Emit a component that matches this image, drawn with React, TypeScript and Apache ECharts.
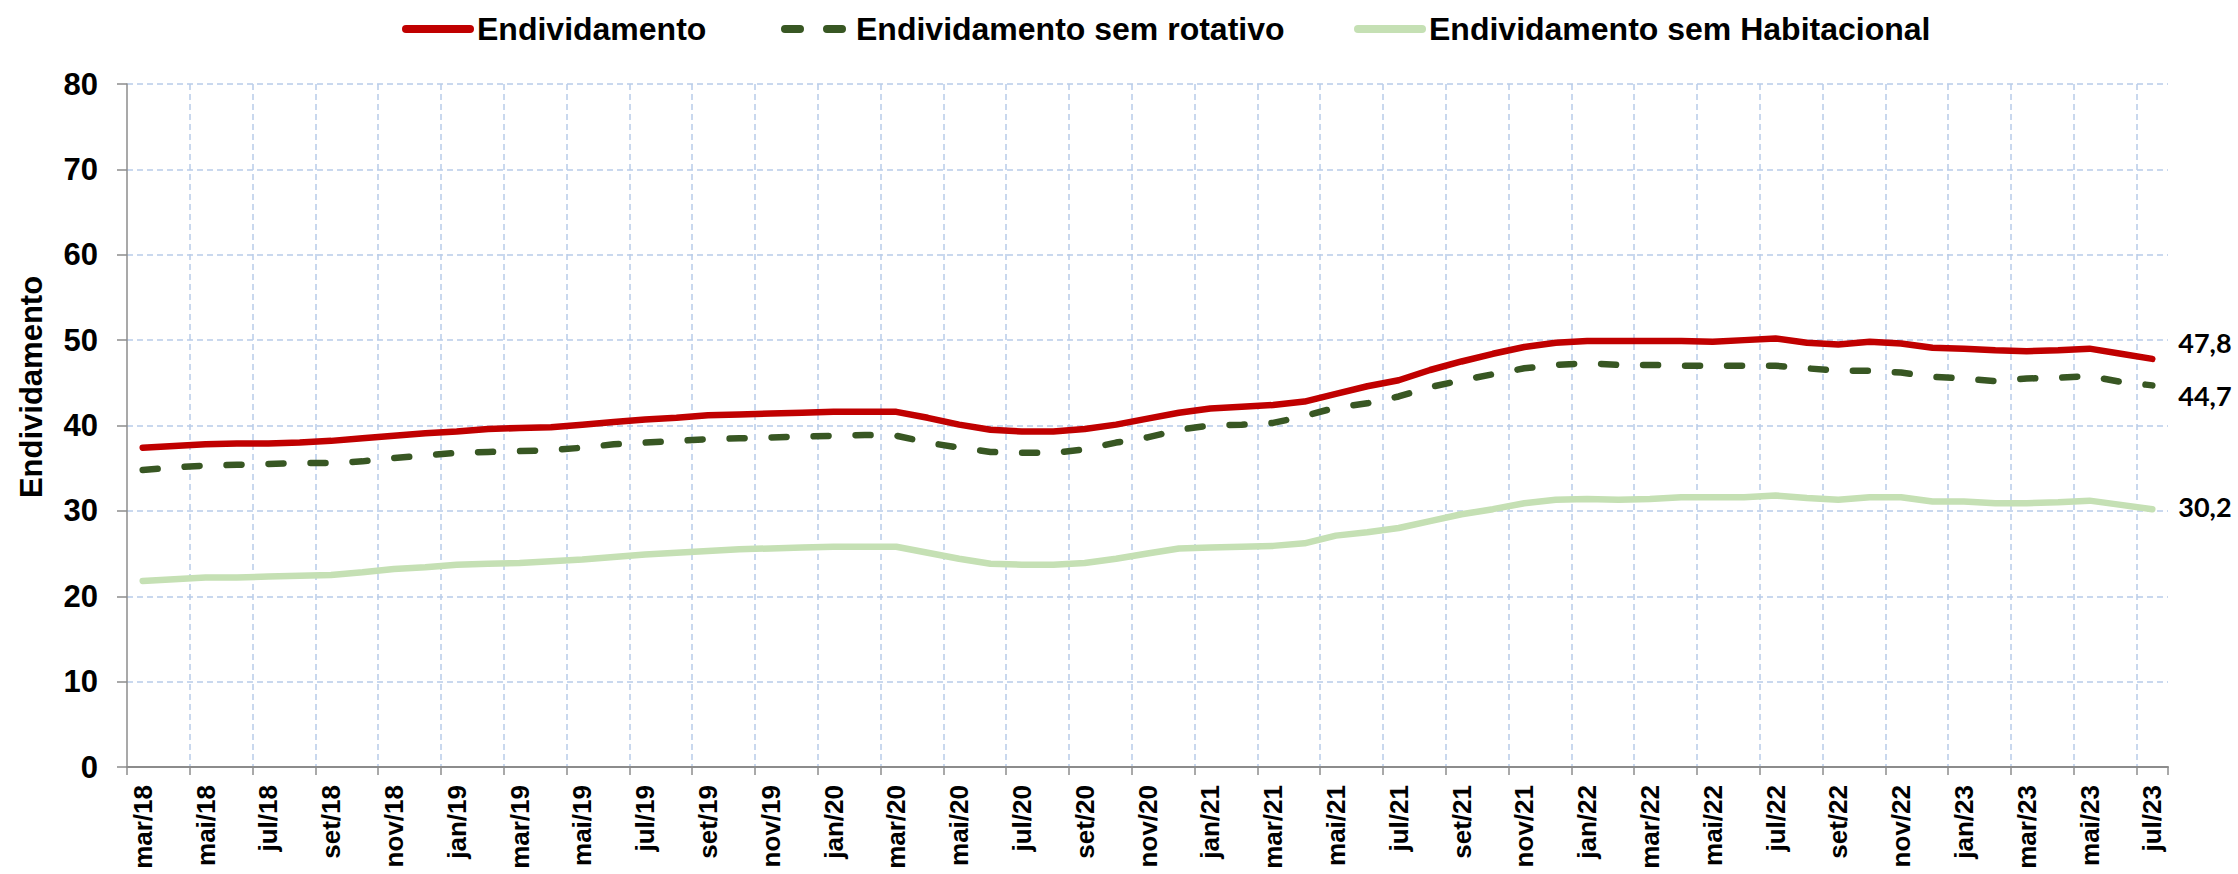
import React, { useEffect, useRef } from "react";
import * as echarts from "echarts";

const categories = [
  "mar/18", "abr/18", "mai/18", "jun/18", "jul/18", "ago/18", "set/18", "out/18", "nov/18", "dez/18",
  "jan/19", "fev/19", "mar/19", "abr/19", "mai/19", "jun/19", "jul/19", "ago/19", "set/19", "out/19", "nov/19", "dez/19",
  "jan/20", "fev/20", "mar/20", "abr/20", "mai/20", "jun/20", "jul/20", "ago/20", "set/20", "out/20", "nov/20", "dez/20",
  "jan/21", "fev/21", "mar/21", "abr/21", "mai/21", "jun/21", "jul/21", "ago/21", "set/21", "out/21", "nov/21", "dez/21",
  "jan/22", "fev/22", "mar/22", "abr/22", "mai/22", "jun/22", "jul/22", "ago/22", "set/22", "out/22", "nov/22", "dez/22",
  "jan/23", "fev/23", "mar/23", "abr/23", "mai/23", "jun/23", "jul/23",
];

const endividamento = [
  37.4, 37.6, 37.8, 37.9, 37.9, 38.0, 38.2, 38.5, 38.8, 39.1,
  39.3, 39.6, 39.7, 39.8, 40.1, 40.4, 40.7, 40.9, 41.2, 41.3,
  41.4, 41.5, 41.6, 41.6, 41.6, 40.9, 40.1, 39.5, 39.3, 39.3,
  39.6, 40.1, 40.8, 41.5, 42.0, 42.2, 42.4, 42.8, 43.7, 44.6,
  45.3, 46.5, 47.5, 48.4, 49.2, 49.7, 49.9, 49.9, 49.9, 49.9,
  49.8, 50.0, 50.2, 49.7, 49.5, 49.8, 49.6, 49.1, 49.0, 48.8,
  48.7, 48.8, 49.0, 48.4, 47.8,
];

const semRotativo = [
  34.8, 35.1, 35.3, 35.4, 35.5, 35.6, 35.6, 35.8, 36.2, 36.5,
  36.8, 36.9, 37.0, 37.1, 37.4, 37.8, 38.0, 38.2, 38.4, 38.5,
  38.6, 38.7, 38.8, 38.9, 38.8, 38.0, 37.4, 36.9, 36.8, 36.8,
  37.2, 38.0, 38.6, 39.5, 40.0, 40.1, 40.3, 41.1, 42.1, 42.6,
  43.4, 44.5, 45.3, 46.0, 46.7, 47.1, 47.3, 47.1, 47.1, 47.0,
  47.0, 47.0, 47.0, 46.7, 46.4, 46.4, 46.2, 45.7, 45.5, 45.2,
  45.5, 45.6, 45.8, 45.1, 44.7,
];

const semHabitacional = [
  21.8, 22.0, 22.2, 22.2, 22.3, 22.4, 22.5, 22.8, 23.2, 23.4,
  23.7, 23.8, 23.9, 24.1, 24.3, 24.6, 24.9, 25.1, 25.3, 25.5,
  25.6, 25.7, 25.8, 25.8, 25.8, 25.1, 24.4, 23.8, 23.7, 23.7,
  23.9, 24.4, 25.0, 25.6, 25.7, 25.8, 25.9, 26.2, 27.1, 27.5,
  28.0, 28.8, 29.6, 30.2, 30.9, 31.3, 31.4, 31.3, 31.4, 31.6,
  31.6, 31.6, 31.8, 31.5, 31.3, 31.6, 31.6, 31.1, 31.1, 30.9,
  30.9, 31.0, 31.2, 30.7, 30.2,
];

const seriesNames = ["Endividamento", "Endividamento sem rotativo", "Endividamento sem Habitacional"];
const yAxisTitle = "Endividamento";

const FONT = "'Liberation Sans', Arial, sans-serif";
const GRID_COLOR = "#b8cbe9";
const fmt = (v: number) => v.toFixed(1).replace(".", ",");

export default function App() {
  const ref = useRef<HTMLDivElement>(null);

  useEffect(() => {
    document.body.style.margin = "0";
    if (!ref.current) return;
    const chart = echarts.init(ref.current, undefined, { renderer: "svg" });
    const endLabel = (dy: number) => ({
      show: true,
      formatter: (p: any) => fmt(Number(p.value)),
      distance: 26,
      offset: [0, dy],
      color: "#000",
      fontFamily: "Lato, 'Open Sans', sans-serif",
      fontWeight: "bold",
      fontSize: 27,
    });
    const legendAt = (left: number, name: string) => ({
      top: 8,
      left,
      itemWidth: 64,
      itemHeight: 16,
      itemGap: 0,
      itemStyle: { opacity: 0 },
      lineStyle: { width: 8 },
      textStyle: { fontFamily: FONT, fontWeight: "bold", fontSize: 32, color: "#000", padding: [0, 0, 0, 2] },
      data: [name],
    });
    chart.setOption({
      animation: false,
      backgroundColor: "#ffffff",
      legend: [
        legendAt(397, seriesNames[0]),
        legendAt(776, seriesNames[1]),
        legendAt(1349, seriesNames[2]),
      ],
      grid: { left: 127, right: 70, top: 84, bottom: 107, containLabel: false },
      xAxis: {
        type: "category",
        data: categories,
        boundaryGap: true,
        axisLine: { show: true, lineStyle: { color: "#8c8c8c", width: 2 } },
        axisTick: { show: true, interval: 1, alignWithLabel: false, length: 8, lineStyle: { color: "#8c8c8c", width: 1.5 } },
        axisLabel: {
          interval: 1,
          rotate: 90,
          margin: 18,
          fontFamily: FONT,
          fontWeight: "bold",
          fontSize: 26,
          color: "#000",
        },
        splitLine: {
          show: true,
          interval: 1,
          showMinLine: false,
          showMaxLine: false,
          lineStyle: { color: GRID_COLOR, type: [6, 4], width: 1.5 },
        },
      },
      yAxis: {
        type: "value",
        min: 0,
        max: 80,
        interval: 10,
        axisLine: { show: true, lineStyle: { color: "#8c8c8c", width: 1.5 } },
        axisTick: { show: true, length: 10, lineStyle: { color: "#8c8c8c", width: 1.5 } },
        axisLabel: { margin: 29, fontFamily: FONT, fontWeight: "bold", fontSize: 31, color: "#000" },
        splitLine: { show: true, showMinLine: false, lineStyle: { color: GRID_COLOR, type: [6, 4], width: 1.5 } },
      },
      graphic: [
        {
          type: "text",
          x: 31,
          y: 387,
          rotation: Math.PI / 2,
          style: {
            text: yAxisTitle,
            fontFamily: FONT,
            fontWeight: "bold",
            fontSize: 31,
            fill: "#000",
            align: "center",
            verticalAlign: "middle",
          },
        },
      ],
      series: [
        {
          name: seriesNames[0],
          type: "line",
          data: endividamento,
          showSymbol: false,
          symbol: "none",
          lineStyle: { color: "#c00000", width: 6.5, join: "round", cap: "round" },
          itemStyle: { color: "#c00000" },
          endLabel: endLabel(-16),
          z: 3,
        },
        {
          name: seriesNames[1],
          type: "line",
          data: semRotativo,
          showSymbol: false,
          symbol: "none",
          lineStyle: { color: "#385723", width: 6.5, type: [15, 27], cap: "round", join: "round" },
          itemStyle: { color: "#385723" },
          endLabel: endLabel(10),
          z: 2,
        },
        {
          name: seriesNames[2],
          type: "line",
          data: semHabitacional,
          showSymbol: false,
          symbol: "none",
          lineStyle: { color: "#c5e0b4", width: 6.5, join: "round", cap: "round" },
          itemStyle: { color: "#c5e0b4" },
          endLabel: endLabel(-3),
          z: 1,
        },
      ],
    });
    return () => chart.dispose();
  }, []);

  return <div ref={ref} style={{ width: 2238, height: 874 }} />;
}
